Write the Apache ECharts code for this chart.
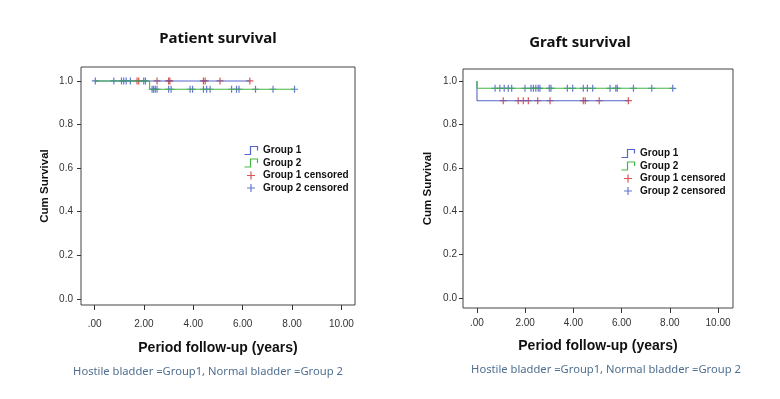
<!DOCTYPE html>
<html>
<head>
<meta charset="utf-8">
<title>Survival</title>
<script src="https://cdn.jsdelivr.net/npm/echarts@6.0.0/dist/echarts.min.js"></script>
<style>
  html, body { margin: 0; padding: 0; background: #fff; }
  #chart { width: 780px; height: 399px; }
</style>
</head>
<body>
<div id="chart"></div>
<script>
// tick values and labels
const xTicks = [0, 2, 4, 6, 8, 10];
const xTickLabels = [".00", "2.00", "4.00", "6.00", "8.00", "10.00"];
const yTicks = [0, 0.2, 0.4, 0.6, 0.8, 1.0];
const yTickLabels = ["0.0", "0.2", "0.4", "0.6", "0.8", "1.0"];

// Patient survival - step curves [time, cum survival]
const patientG1Line = [[0, 1], [6.29, 1]];
const patientG2Line = [[0, 1], [2.23, 0.962], [8.1, 0.962]];
// censored times
const patientG1CensorTop = [1.72, 1.79, 2.53, 3.0, 3.05, 4.41, 4.48, 5.08, 6.29];
const patientG2CensorTop = [0.03, 0.78, 1.09, 1.18, 1.28, 1.45, 1.99, 2.06];
const patientG2CensorLow = [2.33, 2.39, 2.46, 2.53, 3.0, 3.1, 3.87, 3.97, 4.41, 4.54, 4.68, 5.55, 5.75, 5.85, 6.52, 7.23, 8.1];

// Graft survival
const graftG1Line = [[0, 1], [0, 0.909], [6.28, 0.909]];
const graftG2Line = [[0, 1], [0, 0.966], [8.12, 0.966]];
const graftG1Censor = [1.09, 1.71, 1.92, 2.13, 2.52, 3.03, 4.41, 4.49, 5.07, 6.28];
const graftG2Censor = [0.75, 0.95, 1.13, 1.3, 1.44, 1.99, 2.24, 2.34, 2.44, 2.54, 2.61, 3.0, 3.07, 3.75, 3.97, 4.41, 4.58, 4.8, 5.52, 5.76, 5.82, 6.49, 7.25, 8.12];

const names = ["Group 1", "Group 2", "Group 1 censored", "Group 2 censored"];
const colG1 = "#5566c8";
const colG2 = "#44b844";
const colRed = "#d22b2b";
const colBlue = "#3f58c5";
const plusPath = "path://M5,0 L5,10 M0,5 L10,5";
const stepPath = "path://M0,8 L6,8 L6,0 L13,0 L13,4";

const atLevel = (xs, y) => xs.map(x => [x, y]);

function makeXAxis(idx, min, max, margin, gap) {
  return {
    type: "value", gridIndex: idx, min: min, max: max,
    axisLine: { show: false, onZero: false },
    axisTick: { show: true, inside: false, length: 5, customValues: xTicks, lineStyle: { color: "#333" } },
    axisLabel: {
      customValues: xTicks, margin: margin, color: "#333", fontSize: 10, fontFamily: "Liberation Sans",
      formatter: v => xTickLabels[xTicks.indexOf(v)]
    },
    splitLine: { show: false },
    name: "Period follow-up (years)", nameLocation: "middle", nameGap: gap,
    nameTextStyle: { fontSize: 14, fontWeight: "bold", color: "#111", fontFamily: "Liberation Sans" }
  };
}
function makeYAxis(idx, min, max, margin, gap) {
  return {
    type: "value", gridIndex: idx, min: min, max: max,
    axisLine: { show: false, onZero: false },
    axisTick: { show: true, inside: false, length: 4, customValues: yTicks, lineStyle: { color: "#333" } },
    axisLabel: {
      customValues: yTicks, margin: margin, color: "#333", fontSize: 10, fontFamily: "Liberation Sans",
      formatter: v => yTickLabels[yTicks.findIndex(t => Math.abs(t - v) < 1e-6)]
    },
    splitLine: { show: false },
    name: "Cum Survival", nameLocation: "middle", nameRotate: 90, nameGap: gap,
    nameTextStyle: { fontSize: 11.5, fontWeight: "bold", color: "#111", fontFamily: "Liberation Sans" }
  };
}
function lineSeries(name, idx, data, color) {
  return {
    name: name, type: "line", xAxisIndex: idx, yAxisIndex: idx, data: data,
    step: "end", symbol: "none", silent: true, animation: false,
    lineStyle: { color: color, width: 1.1 }, itemStyle: { color: color }
  };
}
function censorSeries(name, idx, data, color) {
  return {
    name: name, type: "scatter", xAxisIndex: idx, yAxisIndex: idx, data: data,
    symbol: plusPath, symbolSize: [7, 7], silent: true, animation: false,
    itemStyle: { color: "none", borderColor: color, borderWidth: 1.2 }
  };
}
function legendFor(left, top) {
  return {
    orient: "vertical", left: left, top: top, padding: 0, itemGap: -0.5,
    itemWidth: 14, itemHeight: 8, selectedMode: false,
    textStyle: { fontSize: 10, fontWeight: "bold", color: "#111", fontFamily: "Liberation Sans", lineHeight: 11 },
    data: [
      { name: names[0], icon: stepPath, itemStyle: { color: "none", borderColor: colG1, borderWidth: 1.2 } },
      { name: names[1], icon: stepPath, itemStyle: { color: "none", borderColor: colG2, borderWidth: 1.2 } },
      { name: names[2], icon: plusPath, itemStyle: { color: "none", borderColor: colRed, borderWidth: 1.2 } },
      { name: names[3], icon: plusPath, itemStyle: { color: "none", borderColor: colBlue, borderWidth: 1.2 } }
    ]
  };
}

const titleFont = "Noto Sans";
const noteColor = "#4f6f90";
const noteText = "Hostile bladder =Group1, Normal bladder =Group 2";
const option = {
  animation: false,
  title: [
    { text: "Patient survival", left: 218, top: 31, padding: 0, textAlign: "center", textStyle: { fontSize: 15, fontWeight: "bold", color: "#111", fontFamily: titleFont } },
    { text: "Graft survival", left: 580, top: 35, padding: 0, textAlign: "center", textStyle: { fontSize: 15, fontWeight: "bold", color: "#111", fontFamily: titleFont } },
    { text: noteText, left: 208, top: 366, padding: 0, textAlign: "center", textStyle: { fontSize: 11.2, fontWeight: "normal", color: noteColor, fontFamily: titleFont } },
    { text: noteText, left: 606, top: 364, padding: 0, textAlign: "center", textStyle: { fontSize: 11.2, fontWeight: "normal", color: noteColor, fontFamily: titleFont } }
  ],
  grid: [
    { left: 81, top: 67, width: 274, height: 238, show: true, borderColor: "#444", borderWidth: 1, backgroundColor: "#fff" },
    { left: 463, top: 69, width: 270, height: 239, show: true, borderColor: "#444", borderWidth: 1, backgroundColor: "#fff" }
  ],
  xAxis: [makeXAxis(0, -0.55, 10.55, 14, 36), makeXAxis(1, -0.58, 10.62, 10, 31)],
  yAxis: [makeYAxis(0, -0.028, 1.064, 8, 30), makeYAxis(1, -0.046, 1.055, 6, 29)],
  legend: [legendFor(242, 144), legendFor(619, 147)],
  series: [
    lineSeries(names[0], 0, patientG1Line, colG1),
    lineSeries(names[1], 0, patientG2Line, colG2),
    censorSeries(names[2], 0, atLevel(patientG1CensorTop, 1), colRed),
    censorSeries(names[3], 0, atLevel(patientG2CensorTop, 1).concat(atLevel(patientG2CensorLow, 0.962)), colBlue),
    lineSeries(names[0], 1, graftG1Line, colG1),
    lineSeries(names[1], 1, graftG2Line, colG2),
    censorSeries(names[2], 1, atLevel(graftG1Censor, 0.909), colRed),
    censorSeries(names[3], 1, atLevel(graftG2Censor, 0.966), colBlue)
  ]
};

const chartDom = document.getElementById("chart");
const myChart = echarts.init(chartDom);
myChart.setOption(option);
</script>
</body>
</html>
